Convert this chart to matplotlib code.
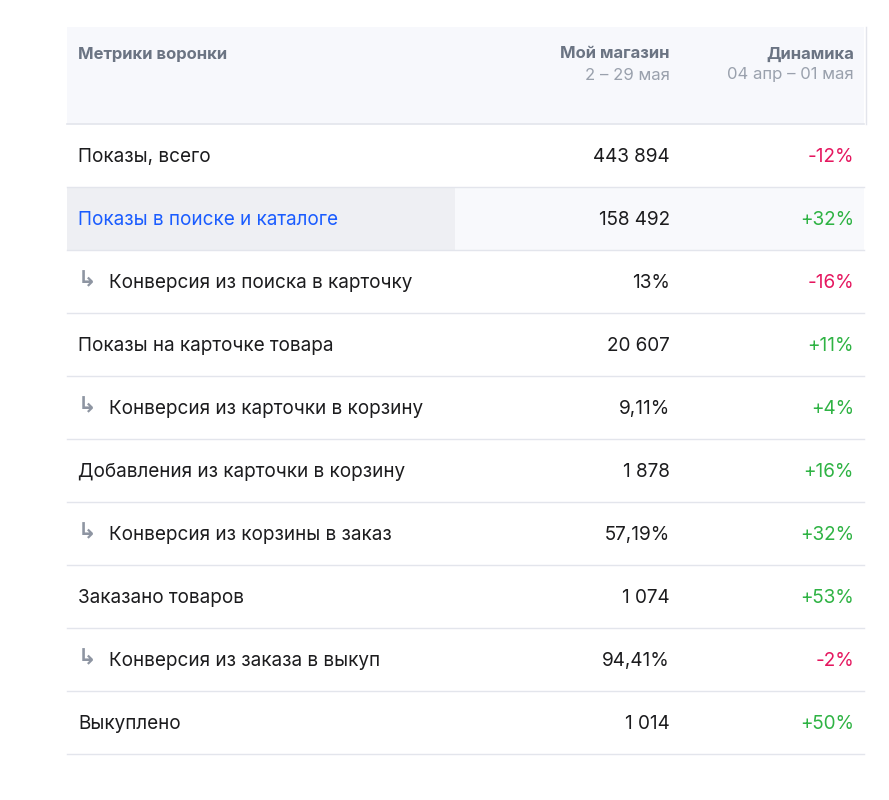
import matplotlib
matplotlib.use("Agg")
import matplotlib.pyplot as plt
from matplotlib.patches import Rectangle

metrics = ["Показы, всего", "Показы в поиске и каталоге", "Конверсия из поиска в карточку",
           "Показы на карточке товара", "Конверсия из карточки в корзину",
           "Добавления из карточки в корзину", "Конверсия из корзины в заказ",
           "Заказано товаров", "Конверсия из заказа в выкуп", "Выкуплено"]
is_conversion = [False, False, True, False, True, False, True, False, True, False]
my_store = ["443 894", "158 492", "13%", "20 607", "9,11%", "1 878", "57,19%", "1 074", "94,41%", "1 014"]
dynamics = ["-12%", "+32%", "-16%", "+11%", "+4%", "+16%", "+32%", "+53%", "-2%", "+50%"]
header = ["Метрики воронки", "Мой магазин", "Динамика"]
subheader = ["2 – 29 мая", "04 апр – 01 мая"]

plt.rcParams["font.family"] = "Inter"
fig = plt.figure(figsize=(8.89, 8.0), dpi=100)
ax = fig.add_axes([0, 0, 1, 1])
ax.set_xlim(0, 889); ax.set_ylim(800, 0); ax.axis("off")

L, R = 67, 864
ax.add_patch(Rectangle((L, 27), R - L, 97, color="#f7f8fc", lw=0))
ax.plot([L, R], [124, 124], color="#e3e5ec", lw=1.2)
ax.plot([866, 866], [27, 124], color="#e3e5ec", lw=1)
hc = "#6b7483"
ax.text(78, 54, header[0], fontsize=12, fontweight="bold", color=hc, va="center")
ax.text(670, 54, header[1], fontsize=12, fontweight="bold", color=hc, va="center", ha="right")
ax.text(854, 54, header[2], fontsize=12, fontweight="bold", color=hc, va="center", ha="right")
ax.text(670, 75, subheader[0], fontsize=12, color="#9aa1ad", va="center", ha="right")
ax.text(854, 75, subheader[1], fontsize=12, color="#9aa1ad", va="center", ha="right")

rh = 63
for i, (m, c, v, d) in enumerate(zip(metrics, is_conversion, my_store, dynamics)):
    top = 124 + i * rh
    yc = top + rh / 2 + 1.5
    if i == 1:
        ax.add_patch(Rectangle((L, top), 455 - L, rh, color="#eeeff3", lw=0))
        ax.add_patch(Rectangle((455, top), R - 455, rh, color="#f8f9fc", lw=0))
    ax.plot([L, R], [top + rh, top + rh], color="#e3e5ec", lw=1)
    tc = "#1a5cff" if i == 1 else "#1c1c1e"
    if c:
        ax.text(78, yc - 3, "↳", fontsize=16, color="#8e95a2", va="center", family="DejaVu Sans", fontweight="bold")
        ax.text(109, yc, m, fontsize=13.6, color=tc, va="center")
    else:
        ax.text(78, yc, m, fontsize=13.6, color=tc, va="center")
    ax.text(670, yc, v, fontsize=13.6, color="#1c1c1e", va="center", ha="right")
    dc = "#e5175f" if d.startswith("-") else "#2fb344"
    ax.text(854, yc, d, fontsize=13.6, color=dc, va="center", ha="right")

fig.savefig("out.png", dpi=100)
